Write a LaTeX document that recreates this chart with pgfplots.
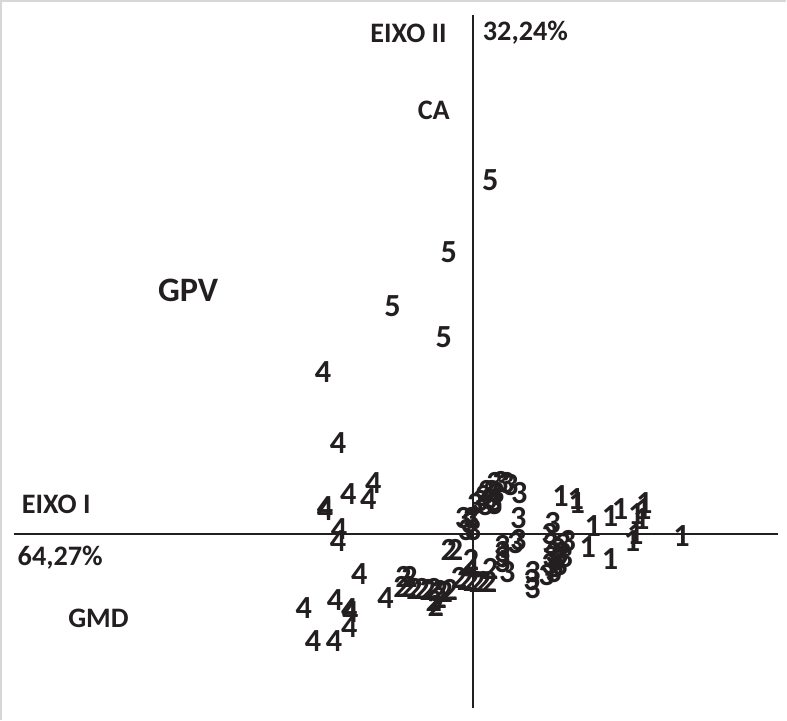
\documentclass[border=0pt]{standalone}
\usepackage{pgfplots}
\pgfplotsset{compat=1.18}
\usepackage{fontspec}
\setmainfont{Carlito}
\definecolor{ink}{RGB}{35,31,32}
\definecolor{frame}{RGB}{215,215,215}
\pgfplotsset{digit/.style={draw=none, mark=none, nodes near coords={#1}, nodes near coords align={center},
  every node near coord/.style={font=\bfseries\fontsize{16}{16}\selectfont, text=ink, inner sep=0pt, anchor=center}}}
\begin{document}
\begin{tikzpicture}
\begin{axis}[
  width=393.5pt, height=361pt, scale only axis,
  xmin=-476, xmax=311, ymin=-184, ymax=538,
  hide axis, clip=false,
]
% frame
\addplot[frame, line width=0.8pt] coordinates {(-469,-184) (-469,530) (311,530)};
% axes
\addplot[ink, line width=1pt] coordinates {(-456,0) (303,0)};
\addplot[ink, line width=1pt] coordinates {(0,516) (0,-172)};
% group 1
\addplot[digit=1] coordinates {
(87,38) (102,35) (103,31) (119,8) (136,18) (146,25) (162,20) (170,31) (169,25) (167,15) (161,0) (158,-7) (114,-12) (136,-24) (207,-2)};
% group 2
\addplot[digit=2] coordinates {
(-24,-15) (-18,-15) (-2,-25) (17,-34) (-69,-42) (-63,-42) (-71,-52) (-64,-52) (-58,-54) (-51,-54) (-45,-55) (-39,-54) (-33,-56) (-28,-57) (-23,-55) (-39,-66) (-37,-71) (-34,-63) (-14,-43) (-8,-45) (-2,-46) (4,-47) (10,-47) (16,-47)};
% group 3
\addplot[digit=3] coordinates {
(21,51) (27,52) (33,51) (37,49) (46,41) (13,43) (18,43) (23,41) (10,38) (16,35) (21,33) (7,33) (2,30) (12,29) (21,30)
(-10,16) (-2,16) (-4,11) (-7,4) (0,4)
(45,16) (45,-6) (79,11) (76,0)
(29,-12) (29,-17) (29,-22) (29,-27) (42,-9) (34,-37) (59,-37) (58,-45) (59,-53) (73,-40)
(94,-7) (89,-10) (84,-14) (80,-18) (87,-18) (77,-22) (84,-25) (91,-22) (76,-29) (82,-32) (80,-37) (86,-30) (77,-10)};
% group 4
\addplot[digit=4] coordinates {
(-149,161) (-134,91) (-99,51) (-124,40) (-104,35) (-147,27) (-147,24) (-133,5) (-134,-7) (-113,-39) (-87,-63) (-168,-73) (-137,-65) (-123,-74) (-122,-77) (-123,-92) (-159,-106) (-138,-106) (-2,-34)};
% group 5
\addplot[digit=5] coordinates {
(17,352) (-24,280) (-80,227) (-29,196)};
% labels
\node[font=\bfseries\fontsize{14}{14}\selectfont, text=ink] at (axis cs:-64,498) {EIXO II};
\node[font=\bfseries\fontsize{14}{14}\selectfont, text=ink] at (axis cs:52,498) {32,24\%};
\node[font=\bfseries\fontsize{14}{14}\selectfont, text=ink] at (axis cs:-39,421) {CA};
\node[font=\bfseries\fontsize{17}{17}\selectfont, text=ink] at (axis cs:-283,242) {GPV};
\node[font=\bfseries\fontsize{14}{14}\selectfont, text=ink] at (axis cs:-414,30) {EIXO I};
\node[font=\bfseries\fontsize{14}{14}\selectfont, text=ink] at (axis cs:-410,-23) {64,27\%};
\node[font=\bfseries\fontsize{14}{14}\selectfont, text=ink] at (axis cs:-372,-83) {GMD};
\end{axis}
\end{tikzpicture}
\end{document}
